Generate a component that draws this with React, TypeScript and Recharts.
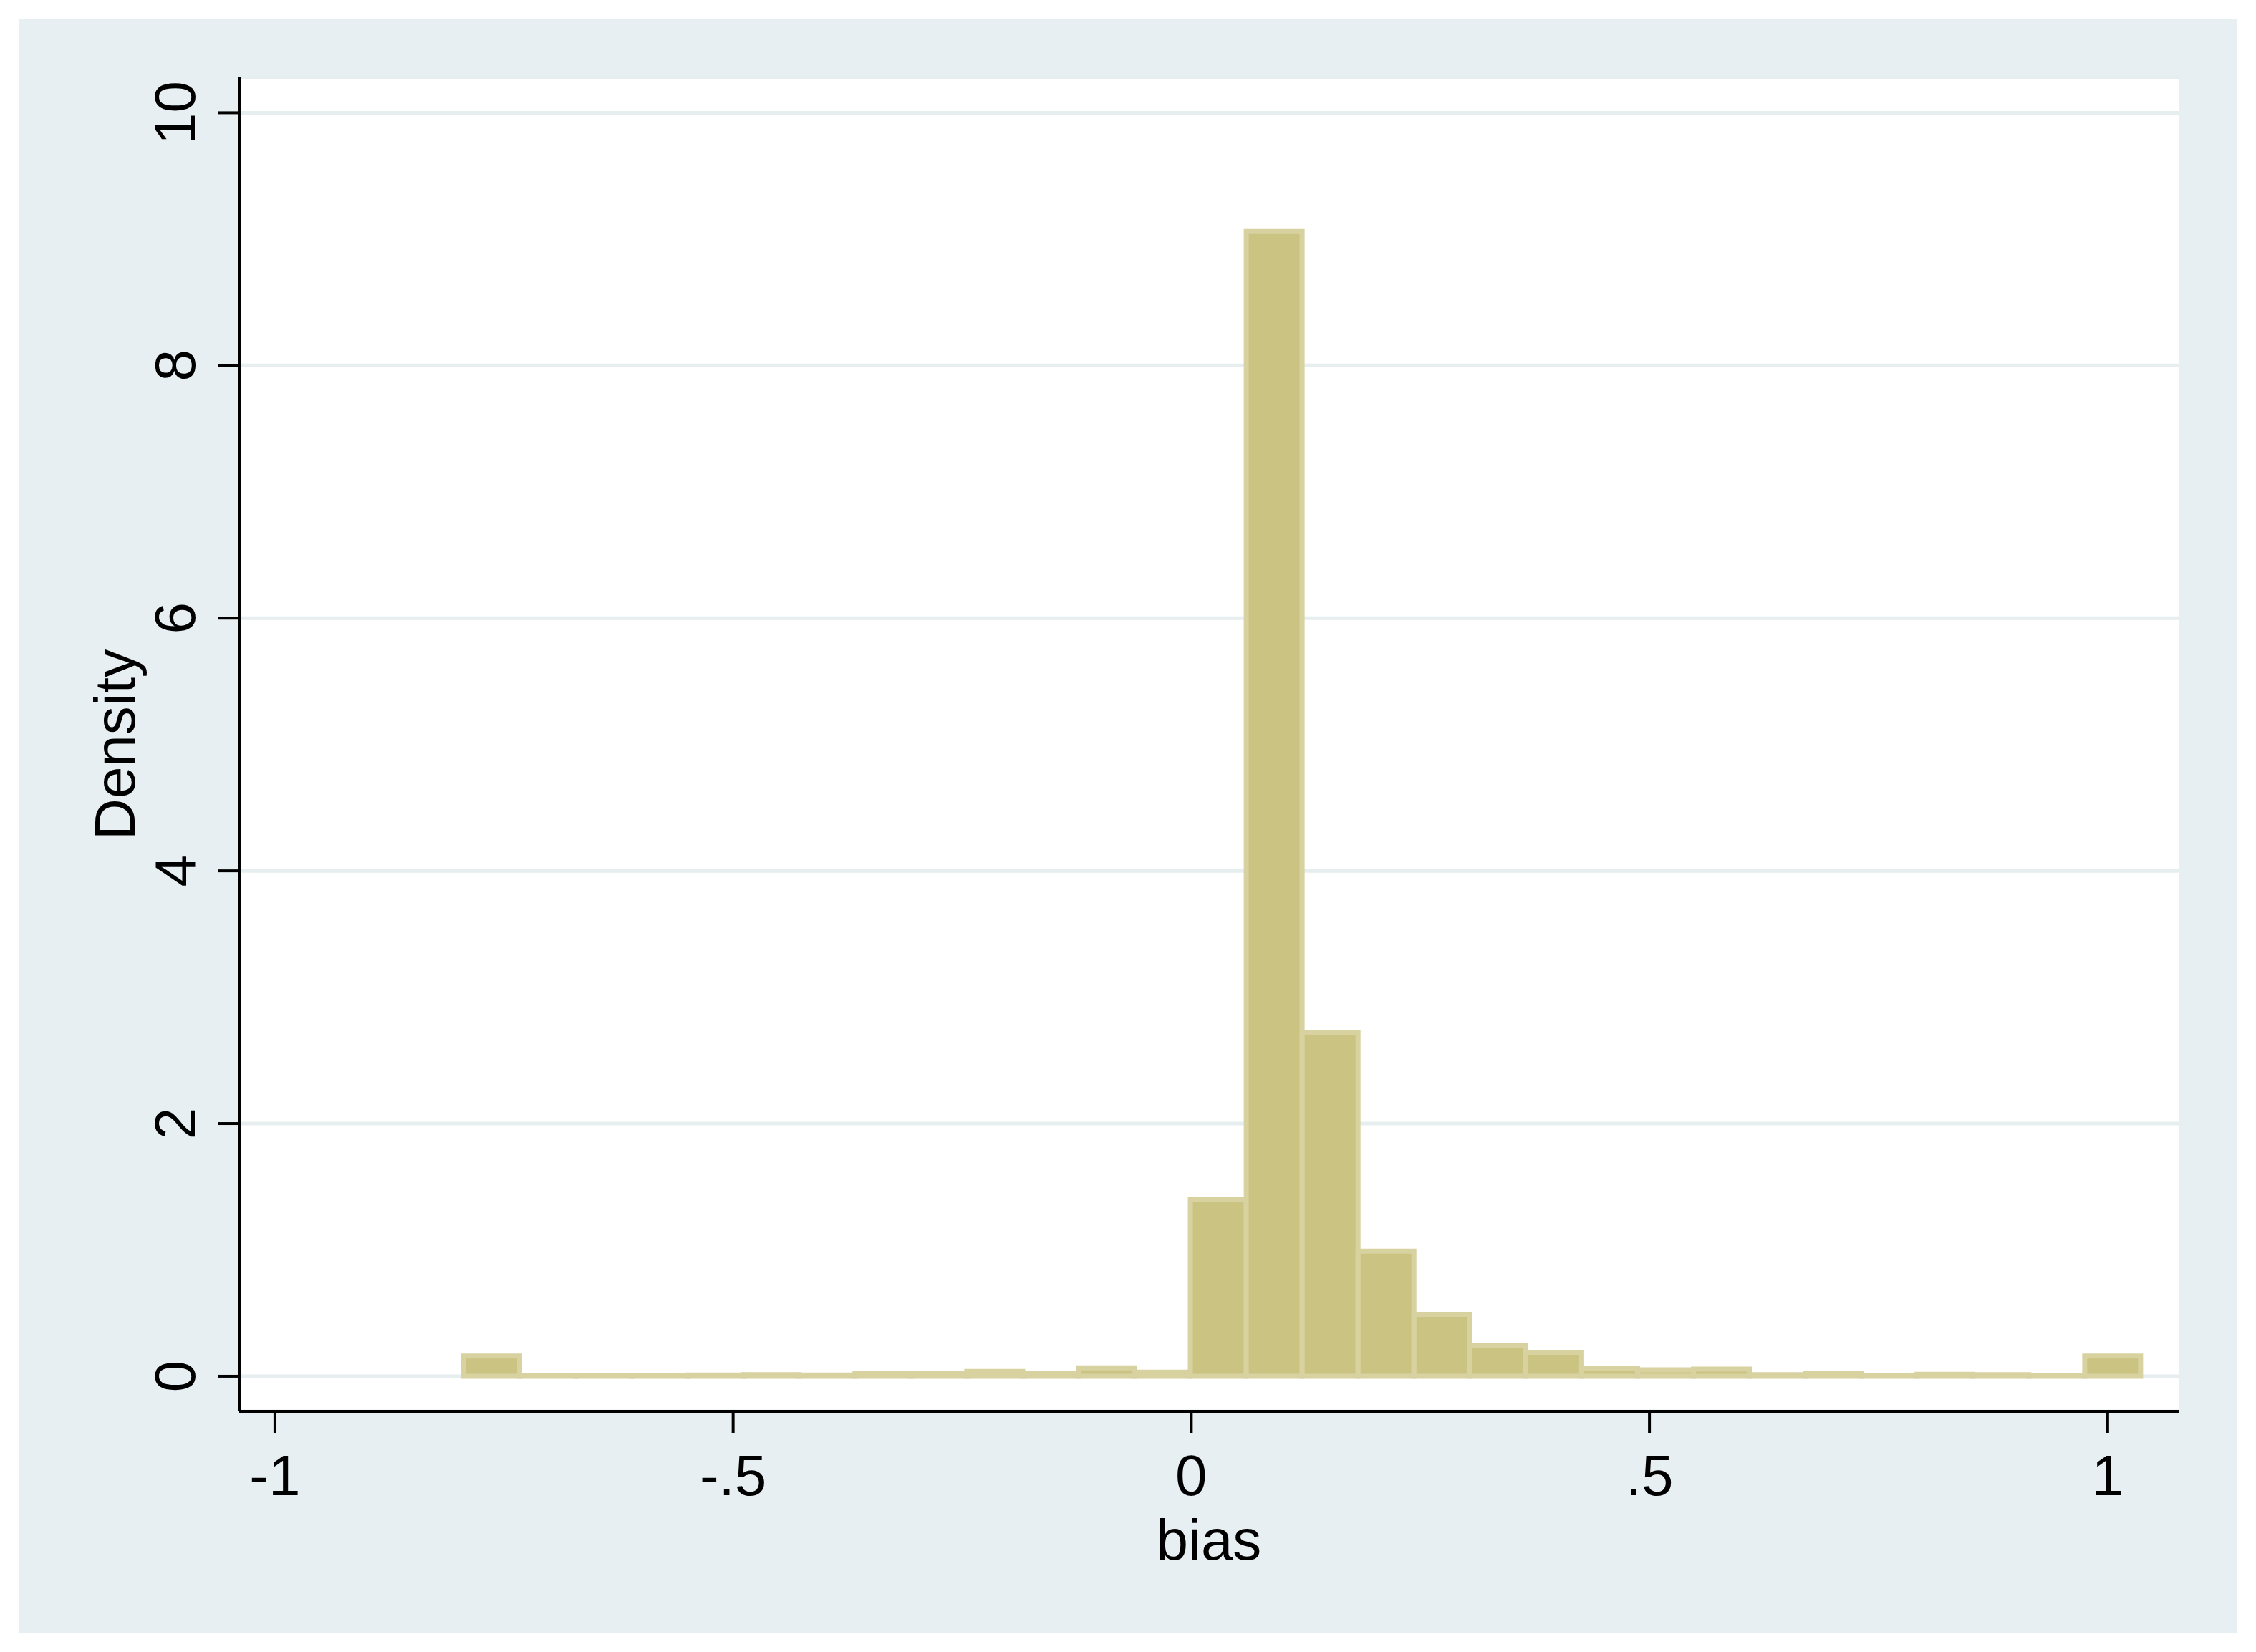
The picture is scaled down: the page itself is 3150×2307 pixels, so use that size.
import { ComposedChart, Bar, XAxis, YAxis, CartesianGrid, Label } from "recharts";

// histogram of bias: 30 bins, width ~0.061, starting at -0.794
const binCenters = [
  -0.7635, -0.7025, -0.6415, -0.5805, -0.5195, -0.4585, -0.3975, -0.3365, -0.2755, -0.2145,
  -0.1535, -0.0925, -0.0315, 0.0295, 0.0905, 0.1515, 0.2125, 0.2735, 0.3345, 0.3955,
  0.4565, 0.5175, 0.5785, 0.6395, 0.7005, 0.7615, 0.8225, 0.8835, 0.9445, 1.0055,
];
const densities = [
  0.16, 0.003, 0.006, 0.003, 0.009, 0.012, 0.01, 0.022, 0.022, 0.038,
  0.023, 0.066, 0.032, 1.4, 9.06, 2.72, 0.99, 0.49, 0.245, 0.19,
  0.06, 0.05, 0.057, 0.012, 0.02, 0.004, 0.015, 0.012, 0.004, 0.16,
];

const xTicks = [-1, -0.5, 0, 0.5, 1];
const xTickLabels = ["-1", "-.5", "0", ".5", "1"];
const yTicks = [0, 2, 4, 6, 8, 10];
const yTickLabels = ["0", "2", "4", "6", "8", "10"];

const data = binCenters.map((x, i) => ({ x, density: densities[i] }));

const font = "'Liberation Sans', Arial, Helvetica, sans-serif";

function YTick(props: any) {
  const { x, y, payload } = props;
  const label = yTickLabels[yTicks.indexOf(payload.value)];
  return (
    <text
      x={x}
      y={y}
      transform={`rotate(-90, ${x}, ${y})`}
      textAnchor="middle"
      fontSize={80}
      fontFamily={font}
      fill="#000"
    >
      {label}
    </text>
  );
}

function YTitle(props: any) {
  const vb = props.viewBox;
  const x = vb.x + 188;
  const y = vb.y + vb.height / 2;
  return (
    <text x={x} y={y} transform={`rotate(-90, ${x}, ${y})`} textAnchor="middle"
      fontSize={80} fontFamily={font} fill="#000">
      Density
    </text>
  );
}

function XTitle(props: any) {
  const vb = props.viewBox;
  return (
    <text x={vb.x + vb.width / 2} y={vb.y + 207} textAnchor="middle"
      fontSize={80} fontFamily={font} fill="#000">
      bias
    </text>
  );
}

export default function App() {
  return (
    <div style={{ position: "relative", width: 3150, height: 2307, background: "#fff" }}>
      <style>{`body{margin:0}`}</style>
      <div style={{ position: "absolute", left: 27, top: 27, width: 3096, height: 2253, background: "#e8eff2" }} />
      <div style={{ position: "absolute", left: 0, top: 0 }}>
        <ComposedChart
          width={3150}
          height={2307}
          data={data}
          margin={{ top: 108, right: 108, bottom: 0, left: 0 }}
          barCategoryGap={0}
          barGap={0}
        >
          <CartesianGrid vertical={false} stroke="#e6eef0" strokeWidth={5} fill="#ffffff" />
          <XAxis
            type="number"
            dataKey="x"
            domain={[-1.039, 1.0775]}
            allowDataOverflow
            ticks={xTicks}
            tickFormatter={(v: number) => xTickLabels[xTicks.indexOf(v)]}
            height={336}
            tickSize={30}
            tickMargin={30}
            axisLine={{ stroke: "#000", strokeWidth: 4 }}
            tickLine={{ stroke: "#000", strokeWidth: 4 }}
            tick={{ fontSize: 80, fill: "#000", fontFamily: font }}
          >
            <Label content={XTitle} />
          </XAxis>
          <YAxis
            type="number"
            domain={[-0.278, 10.28]}
            allowDataOverflow
            ticks={yTicks}
            width={334}
            tickSize={30}
            tickMargin={32}
            axisLine={{ stroke: "#000", strokeWidth: 4 }}
            tickLine={{ stroke: "#000", strokeWidth: 4 }}
            tick={<YTick />}
          >
            <Label content={YTitle} />
          </YAxis>
          <Bar
            dataKey="density"
            fill="#cbc382"
            stroke="#d8d2a0"
            strokeWidth={7}
            isAnimationActive={false}
          />
        </ComposedChart>
      </div>
    </div>
  );
}
